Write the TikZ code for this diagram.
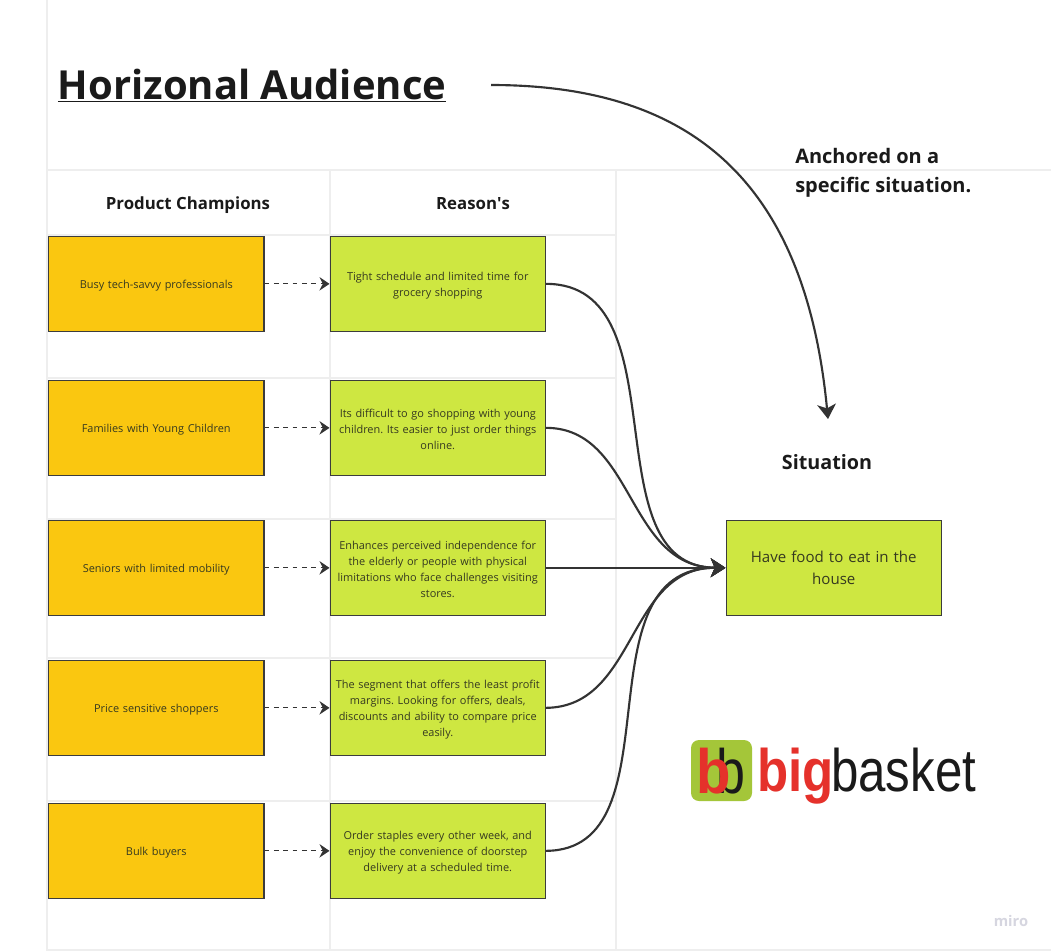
\documentclass[tikz,border=0pt]{standalone}
\usepackage{fontspec}
\setmainfont{Open Sans}
\newfontfamily\openplain{Open Sans}
\newfontfamily\logofont{Liberation Sans}
\usetikzlibrary{arrows.meta}
\AtBeginDocument{\frenchspacing}
\definecolor{grid}{HTML}{EEEEEE}
\definecolor{amber}{HTML}{FAC710}
\definecolor{lime}{HTML}{CEE741}
\definecolor{ink}{HTML}{1A1A1A}
\definecolor{wire}{HTML}{333333}
\definecolor{bbred}{HTML}{E5312B}
\definecolor{bbgreen}{HTML}{A4C639}
\definecolor{mirogrey}{HTML}{D6D6E0}
\tikzset{
  x=0.75pt,y=-0.75pt,
  gridline/.style={draw=grid,line width=1pt},
  cardbox/.style={draw=ink!85,line width=0.9pt,minimum width=161.5pt,minimum height=71.6pt,inner ysep=2pt,inner xsep=1pt,align=center,text width=158pt,font=\fontsize{8.2}{12}\selectfont,text=ink!85!lime,anchor=north west,execute at begin node={\rule{0pt}{8.6pt}}},
  champ/.style={cardbox,fill=amber},
  why/.style={cardbox,fill=lime},
  heading/.style={font=\fontsize{12.6}{16}\selectfont\bfseries,text=ink},
  dashlink/.style={draw=wire,line width=0.75pt,dash pattern=on 3.5pt off 3.5pt,-{Stealth[length=7.5pt,width=10pt,inset=2.5pt]}},
  curvelink/.style={draw=wire,line width=1.6pt,-{Stealth[length=11pt,width=14pt,inset=3pt]}},
}
\begin{document}
\begin{tikzpicture}
\useasboundingbox (0,0) rectangle (1051,951);
\fill[white] (0,0) rectangle (1051,951);
% grid
\draw[gridline] (47,0) -- (47,951);
\draw[gridline] (330,170) -- (330,951);
\draw[gridline] (616,170) -- (616,951);
\draw[gridline] (47,170) -- (1051,170);
\foreach \yy in {235,378,519,658,801} \draw[gridline] (47,\yy) -- (616,\yy);
\draw[gridline] (47,950) -- (1051,950);
% title
\node[anchor=base west,inner sep=0pt,font=\fontsize{30}{36}\selectfont\bfseries,text=ink] (title) at (57.5,99) {\underline{Horizonal Audience}};
\coordinate (titleend) at (491,85);
\coordinate (sitmark) at (828,419);
\draw[curvelink] (titleend) .. controls (690,85) and (805,180) .. (sitmark);
\node[anchor=north west,inner sep=0pt,align=left,font=\fontsize{15}{22}\selectfont\bfseries,text=ink] (anchored) at (795,148) {Anchored on a\\specific situation.};
% headings
\node[heading] (h1) at (188,205) {Product Champions};
\node[heading] (h2) at (473,204) {Reason{\openplain'}s};
\node[heading,font=\fontsize{14.8}{18}\selectfont\bfseries] (h3) at (827,462) {Situation};
% row boxes
\node[champ] (c1) at (48,235.5) {Busy tech-savvy professionals};
\node[champ] (c2) at (48,379.5) {Families with Young Children};
\node[champ] (c3) at (48,519.5) {Seniors with limited mobility};
\node[champ] (c4) at (48,659.5) {Price sensitive shoppers};
\node[champ] (c5) at (48,802.5) {Bulk buyers};
\node[why] (r1) at (329.5,235.5) {Tight schedule and limited time for\\grocery shopping};
\node[why] (r2) at (329.5,379.5) {Its difficult to go shopping with young\\children. Its easier to just order things\\online.};
\node[why] (r3) at (329.5,519.5) {Enhances perceived independence for\\the elderly or people with physical\\limitations who face challenges visiting\\stores.};
\node[why] (r4) at (329.5,659.5) {The segment that offers the least profit\\margins. Looking for offers, deals,\\discounts and ability to compare price\\easily.};
\node[why] (r5) at (329.5,802.5) {Order staples every other week, and\\enjoy the convenience of doorstep\\delivery at a scheduled time.};
\node[why,font=\fontsize{11.3}{16.5}\selectfont] (s) at (725.5,519.5) {Have food to eat in the\\house};
% links
\foreach \i in {1,...,5} \draw[dashlink] (c\i.east) -- (r\i.west);
\draw[curvelink] (r1.east) .. controls (683,284) and (589,567) .. (s.west);
\draw[curvelink] (r2.east) .. controls (635,428) and (626,567) .. (s.west);
\draw[curvelink] (r3.east) -- (s.west);
\draw[curvelink] (r4.east) .. controls (637,707) and (627,567) .. (s.west);
\draw[curvelink] (r5.east) .. controls (680,850) and (576,567) .. (s.west);
% logo
\fill[bbgreen,rounded corners=6pt] (691,740) rectangle (752,801);
\node[anchor=base,inner sep=0pt,font=\logofont\fontsize{47}{47}\selectfont,text=ink] (bb2) at (730.5,793) {\scalebox{0.83}[1]{b}};
\node[anchor=base,inner sep=0pt,font=\logofont\bfseries\fontsize{47}{47}\selectfont,text=bbred] (bb1) at (714,793) {\scalebox{0.9}[1]{b}};
\node[anchor=base west,inner sep=0pt,font=\logofont\bfseries\fontsize{45}{45}\selectfont,text=bbred] (big) at (757,791) {\scalebox{0.85}[1]{big}};
\node[anchor=base west,inner sep=0pt,font=\logofont\fontsize{45}{45}\selectfont,text=ink] (basket) at (831,791) {\scalebox{0.82}[1]{basket}};
\node[anchor=base,inner sep=0pt,font=\fontsize{11}{12}\selectfont\bfseries,text=mirogrey] (miro) at (1011,926) {miro};
\end{tikzpicture}
\end{document}
